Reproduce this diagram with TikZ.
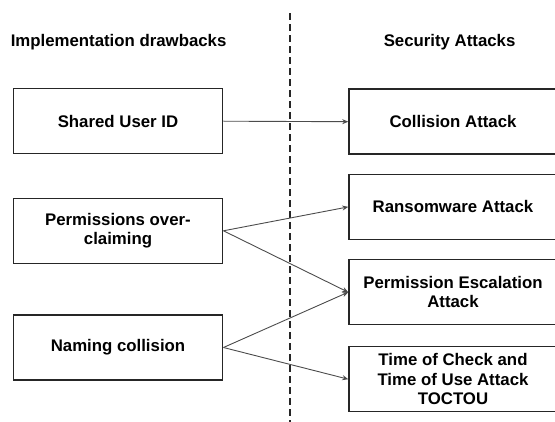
\documentclass[tikz,border=0pt]{standalone}
\usepackage{fontspec}
\setmainfont{Liberation Sans}
\usetikzlibrary{arrows.meta}
\begin{document}
\begin{tikzpicture}[x=1pt,y=-1pt,
  every node/.style={font=\fontsize{16.8}{19.5}\selectfont\bfseries, text=black},
  box/.style={draw=black!85, line width=1.5pt, rectangle, align=center,
    minimum height=65pt, inner sep=0pt},
  leftbox/.style={box, minimum width=209.4pt},
  rightbox/.style={box, minimum width=208pt},
  link/.style={draw=black!70, line width=0.9pt, -{Stealth[length=6pt,width=5pt]}},
  divider/.style={draw=black!85, line width=1.8pt, dash pattern=on 7pt off 4pt}]
  \useasboundingbox (0,0) rectangle (555,422);

  % column titles
  \node (hleft) at (118.6,41.7) {Implementation drawbacks};
  \node (hright) at (449.6,41.7) {Security Attacks};

  % separator between the two columns
  \coordinate (dtop) at (290,13.3);
  \coordinate (dbot) at (290,422);
  \draw[divider] (dtop) -- (dbot);

  % implementation drawbacks
  \node[leftbox] (shared) at (118,121.2) {Shared User ID};
  \node[leftbox] (perm) at (118,230.8) {Permissions over-\\claiming};
  \node[leftbox] (naming) at (118,347.5) {Naming collision};

  % security attacks
  \node[rightbox] (coll) at (453,121.7) {Collision Attack};
  \node[rightbox] (ransom) at (453,206.9) {Ransomware Attack};
  \node[rightbox] (escal) at (453,292.2) {Permission Escalation\\Attack};
  \node[rightbox] (toctou) at (453,379.2) {Time of Check and\\Time of Use Attack\\TOCTOU};

  % links
  \draw[link] (shared.east) -- (coll.west);
  \draw[link] (perm.east) -- (ransom.west);
  \draw[link] (perm.east) -- (escal.west);
  \draw[link] (naming.east) -- (escal.west);
  \draw[link] (naming.east) -- (toctou.west);
\end{tikzpicture}
\end{document}
